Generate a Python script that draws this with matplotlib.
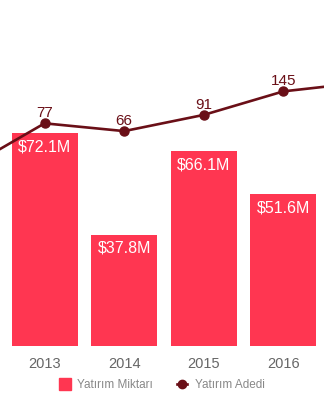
import numpy as np
import matplotlib.pyplot as plt
from matplotlib.lines import Line2D

plt.rcParams['font.family'] = ['Liberation Sans', 'DejaVu Sans']

# data
years = [2013, 2014, 2015, 2016]
amounts = [72.1, 37.8, 66.1, 51.6]          # Yatırım Miktarı ($M)
amount_labels = ['$72.1M', '$37.8M', '$66.1M', '$51.6M']
line_years = [2012, 2013, 2014, 2015, 2016, 2017]
counts = [31, 77, 66, 91, 145, 173]        # Yatırım Adedi (edges run off the chart)
count_labels = {2013: '77', 2014: '66', 2015: '91', 2016: '145'}

bar_color = '#ff3651'
line_color = '#6a0f17'

fig = plt.figure(figsize=(3.24, 4.0), dpi=100)
ax = fig.add_axes([0, 0.135, 1, 0.865])
ax.bar(years, amounts, width=0.83, color=bar_color, zorder=1)
ax.set_xlim(2012.44, 2016.51)
ax.set_ylim(0, 117.3)
for x, v, lab in zip(years, amounts, amount_labels):
    ax.annotate(lab, (x, v), xytext=(0, -4.5), textcoords='offset points',
                ha='center', va='top', color='white', fontsize=11.5)

ax.set_xticks(years)
ax.set_xticklabels([str(y) for y in years])
ax.tick_params(axis='x', length=0, pad=8, labelsize=10.5, labelcolor='#666666')
ax.set_yticks([])
for s in ax.spines.values():
    s.set_visible(False)

ax2 = ax.twinx()
ax2.set_yscale('log')
ax2.set_ylim(0.937, 885)
ax2.plot(line_years, counts, color=line_color, lw=1.9, marker='o', ms=6.5, zorder=3)
for x, v in zip(line_years, counts):
    if x in count_labels:
        ax2.annotate(count_labels[x], (x, v), xytext=(0, 4.5), textcoords='offset points',
                     ha='center', va='baseline', color=line_color, fontsize=11)
ax2.set_xlim(2012.44, 2016.51)
ax2.set_yticks([])
ax2.minorticks_off()
ax2.set_yticks([], minor=True)
for s in ax2.spines.values():
    s.set_visible(False)

handles = [Line2D([], [], ls='none', marker='s', ms=8, color=bar_color),
           Line2D([], [], color=line_color, lw=1.9, marker='o', ms=6)]
fig.legend(handles, ['Yatırım Miktarı', 'Yatırım Adedi'], loc='center',
           bbox_to_anchor=(0.5, 1 - 385 / 400), ncol=2, frameon=False,
           fontsize=8.5, labelcolor='#888888', handlelength=0.9, columnspacing=2.0,
           handletextpad=0.6)

fig.savefig('out.png', dpi=100, facecolor='white')
